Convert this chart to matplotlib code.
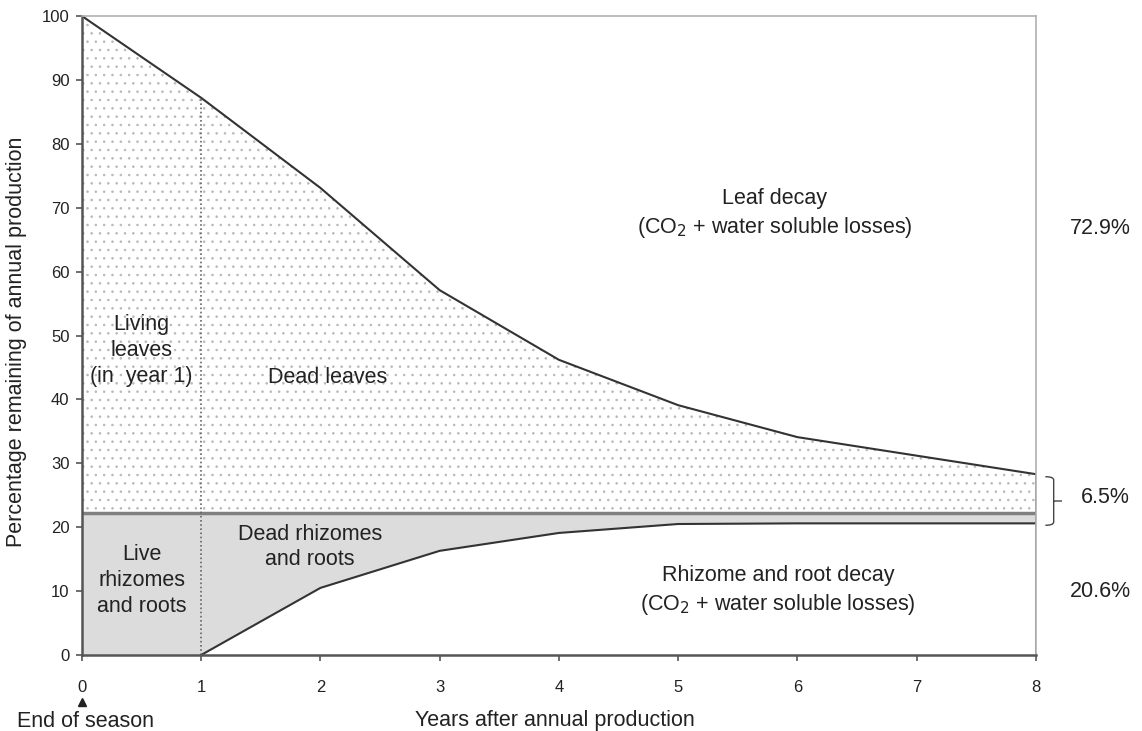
import matplotlib
matplotlib.use("Agg")
import matplotlib.pyplot as plt
from matplotlib.path import Path
from matplotlib.patches import PathPatch
import numpy as np

plt.rcParams['font.family'] = ['Liberation Sans', 'DejaVu Sans']
plt.rcParams['hatch.linewidth'] = 0.6

years = [0, 1, 2, 3, 4, 5, 6, 7, 8]
leaf_remaining = [100, 87.2, 73.1, 57.1, 46.2, 39.1, 34.1, 31.2, 28.3]
rhizome_lost = [0, 0, 10.5, 16.3, 19.1, 20.5, 20.6, 20.6, 20.6]
rhizome_total = 22.2
x_ticks = [0, 1, 2, 3, 4, 5, 6, 7, 8]
y_ticks = [0, 10, 20, 30, 40, 50, 60, 70, 80, 90, 100]
right_labels = ["72.9%", "6.5%", "20.6%"]

FS = 15.5

fig = plt.figure(figsize=(11.42, 7.31), dpi=100)
ax = fig.add_axes([0.0718, 0.104, 0.907 - 0.0718, 0.978 - 0.104])

x = np.array(years, dtype=float)
leaf = np.array(leaf_remaining)
rhiz = np.array(rhizome_lost)
base = np.full_like(x, rhizome_total)

# dotted leaf area
ax.fill_between(x, base, leaf, facecolor='white', edgecolor='#b8b8b8',
                hatch='..', linewidth=0, zorder=1)
# grey rhizome area
ax.fill_between(x, rhiz, base, facecolor='#dcdcdc', edgecolor='none',
                linewidth=0, zorder=1)

# curves
ax.plot(x, leaf, color='#333333', lw=1.5, zorder=3)
ax.plot(x[1:], rhiz[1:], color='#333333', lw=1.5, zorder=3)
ax.plot(x, base, color='#808080', lw=2.5, zorder=3)
ax.vlines(x[1], 0, leaf[1], colors='#666666', linestyles=(0, (1, 1.5)), lw=1.2, zorder=3)
ax.vlines(x[-1], 0, leaf[-1], colors='#555555', lw=1.8, zorder=3)

ax.set_xlim(0, 8)
ax.set_ylim(0, 100)
ax.set_xticks(x_ticks)
ax.set_yticks(y_ticks)
ax.tick_params(axis='both', labelsize=12, color='#555555', length=4, width=1.2,
               labelcolor='#222222')
ax.tick_params(axis='x', pad=14)
ax.tick_params(axis='y', pad=5)

for s in ['left', 'bottom']:
    ax.spines[s].set_color('#555555')
    ax.spines[s].set_linewidth(1.8)
for s in ['top', 'right']:
    ax.spines[s].set_color('#b0b0b0')
    ax.spines[s].set_linewidth(1.2)
for s in ax.spines.values():
    s.set_zorder(4)

ax.set_ylabel('Percentage remaining of annual production', fontsize=FS,
              color='#222222')
ax.yaxis.set_label_coords(-0.058, 0.49)
ax.set_xlabel('Years after annual production', fontsize=FS, color='#222222')
ax.xaxis.set_label_coords(0.496, -0.086)

tk = dict(fontsize=FS, color='#222222', ha='center', va='center',
          linespacing=1.3, zorder=5)
ax.text(5.81, 69.0, 'Leaf decay\n(CO$_2$ + water soluble losses)', **tk)
ax.text(0.5, 47.7, 'Living\nleaves\n(in  year 1)', **tk)
ax.text(2.06, 43.5, 'Dead leaves', **tk)
ax.text(0.5, 11.7, 'Live\nrhizomes\nand roots', **tk)
ax.text(1.91, 16.9, 'Dead rhizomes\nand roots', **tk)
ax.text(5.84, 10.0, 'Rhizome and root decay\n(CO$_2$ + water soluble losses)', **tk)

ax.text(8.54, 66.8, right_labels[0], clip_on=False, **tk)
ax.text(8.58, 24.6, right_labels[1], clip_on=False, **tk)
ax.text(8.54, 9.9, right_labels[2], clip_on=False, **tk)

# curly brace
xb = 8.08
ytop, ybot = 27.9, 20.3
ym = (ytop + ybot) / 2
w = 0.07
verts = [(xb, ytop), (xb + w, ytop), (xb + w, ytop - 0.5), (xb + w, ym + 1.0),
         (xb + w, ym + 0.3), (xb + w, ym), (xb + 2 * w, ym),
         (xb + w, ym), (xb + w, ym - 0.3), (xb + w, ym - 1.0),
         (xb + w, ybot + 0.5), (xb + w, ybot), (xb, ybot)]
codes = [Path.MOVETO, Path.CURVE3, Path.CURVE3, Path.LINETO,
         Path.CURVE3, Path.CURVE3, Path.LINETO,
         Path.MOVETO, Path.CURVE3, Path.CURVE3,
         Path.LINETO, Path.CURVE3, Path.CURVE3]
ax.add_patch(PathPatch(Path(verts, codes), fill=False, edgecolor='#444444',
                       lw=1.0, clip_on=False, zorder=5))

# End of season marker
ax.text(0.03, -10.4, 'End of season', ha='center', va='center',
        fontsize=FS, color='#222222', clip_on=False)
ax.plot([0], [-7.3], marker='^', color='#222222', markersize=6, clip_on=False,
        zorder=5)

fig.savefig('out.png', dpi=100)
